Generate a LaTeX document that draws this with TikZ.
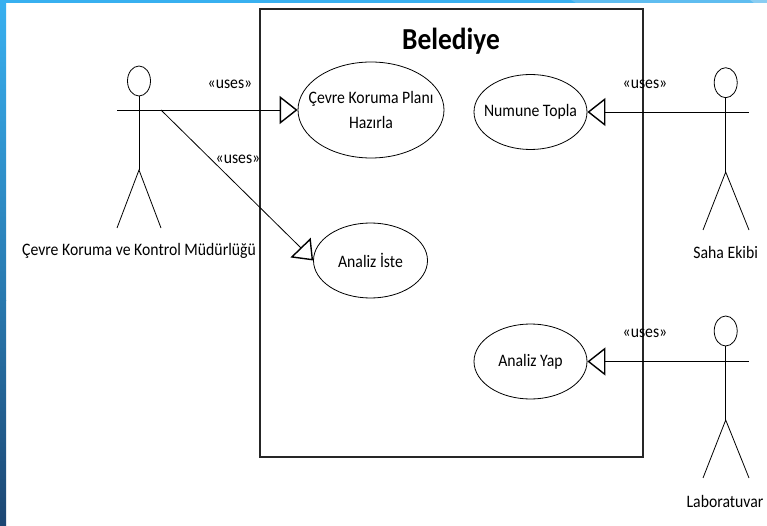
\documentclass[tikz,border=0pt]{standalone}
\usepackage{fontspec}
\setmainfont{Carlito}
\newfontfamily\condfont[FakeStretch=0.9]{Carlito}
\usetikzlibrary{arrows.meta,shapes.geometric}
\definecolor{barTop}{HTML}{38B0F0}
\definecolor{barTopB}{HTML}{5FBDF0}
\definecolor{barTopC}{HTML}{8ACDF2}
\definecolor{barMid}{HTML}{2878AE}
\definecolor{barBot}{HTML}{1C4672}
\tikzset{
  usecase/.style={draw,ellipse,line width=0.8pt,minimum width=113pt,inner sep=0pt},
  uctext/.style={align=center,inner sep=0pt,font=\condfont\fontsize{17.5}{25}\selectfont},
  head/.style={draw,ellipse,line width=0.8pt,minimum width=23pt,minimum height=30pt,inner sep=0pt},
  limb/.style={line width=0.8pt},
  gen/.style={line width=0.8pt,-{Triangle[open,length=18pt,width=28pt,line width=1.4pt]}},
  lbl/.style={font=\condfont\fontsize{17.5}{20}\selectfont,inner sep=0pt},
  system/.style={draw=black!85,line width=1.5pt}
}
\begin{document}
\begin{tikzpicture}[x=1pt,y=-1pt]
\useasboundingbox (0,0) rectangle (767,526);
\fill[white] (0,0) rectangle (767,526);
\fill[barTop] (0,0) rectangle (767,3);
\fill[barTopB] (571,0) -- (767,0) -- (767,3) -- (576,3) -- cycle;
\fill[barTopC] (750,0) -- (767,0) -- (767,3) -- (754,3) -- cycle;
\shade[top color=barTop,bottom color=barMid] (0,0) rectangle (6,300);
\shade[top color=barMid,bottom color=barBot] (0,300) rectangle (6,526);
\node[system,minimum width=383pt,minimum height=448pt,inner sep=0pt] (sys) at (451.5,233) {};
\node[font=\condfont\fontsize{30.5}{33}\bfseries\selectfont,inner sep=0pt] (title) at (451,41) {Belediye};
\node[usecase,minimum height=96pt,minimum width=146pt,label={[uctext]center:{Çevre Koruma Planı\\Hazırla}}] (plan) at (371,110) {};
\node[usecase,minimum height=75pt,label={[uctext]center:{Numune Topla}}] (numune) at (530.5,112) {};
\node[usecase,minimum height=75pt,minimum width=114pt,label={[uctext]center:{Analiz İste}}] (iste) at (370.5,260.5) {};
\node[usecase,minimum height=75pt,label={[uctext]center:{Analiz Yap}}] (yap) at (530.5,361.5) {};
% actor 1
\node[head] (h1) at (139,81) {};
\coordinate (a1l) at (117,110);\coordinate (a1c) at (139,110);\coordinate (a1r) at (161,110);
\coordinate (b1) at (139,170);\coordinate (l1l) at (117,228);\coordinate (l1r) at (161,228);
\draw[limb] (h1.south) -- (b1);
\draw[limb] (a1l) -- (a1r);
\draw[limb] (l1l) -- (b1) -- (l1r);
\node[lbl] (n1) at (139,251) {Çevre Koruma ve Kontrol Müdürlüğü};
% actor 2
\node[head] (h2) at (725.7,82.7) {};
\coordinate (a2l) at (703,112);\coordinate (a2r) at (749,112);
\coordinate (b2) at (725.7,172);\coordinate (l2l) at (703,230);\coordinate (l2r) at (749,230);
\draw[limb] (h2.south) -- (b2);
\draw[limb] (a2l) -- (a2r);
\draw[limb] (l2l) -- (b2) -- (l2r);
\node[lbl] (n2) at (725.7,252) {Saha Ekibi};
% actor 3
\node[head] (h3) at (725.7,331) {};
\coordinate (a3l) at (703,361.5);\coordinate (a3r) at (749,361.5);
\coordinate (b3) at (725.7,420);\coordinate (l3l) at (703,478);\coordinate (l3r) at (749,478);
\draw[limb] (h3.south) -- (b3);
\draw[limb] (a3l) -- (a3r);
\draw[limb] (l3l) -- (b3) -- (l3r);
\node[lbl] (n3) at (725,501) {Laboratuvar};
% connectors
\coordinate (bend) at (300,247);
\draw[gen] (a1r) -- (plan.west);
\draw[gen] (a1r) -- (bend) -- (iste.west);
\draw[gen] (a2l) -- (numune.east);
\draw[gen] (a3l) -- (yap.east);
% labels
\node[lbl] (u1) at (230,84) {«uses»};
\node[lbl] (u2) at (238,159) {«uses»};
\node[lbl] (u3) at (645,84.5) {«uses»};
\node[lbl] (u4) at (645,333) {«uses»};
\end{tikzpicture}
\end{document}
